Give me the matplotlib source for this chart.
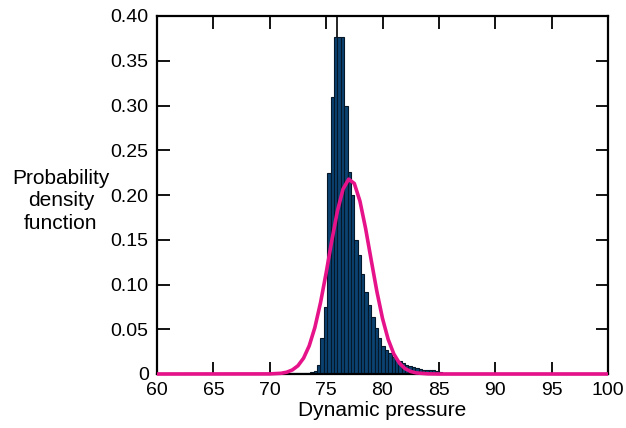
import matplotlib
matplotlib.use("Agg")
import matplotlib.pyplot as plt
import numpy as np

plt.rcParams['font.family'] = ['Liberation Sans', 'DejaVu Sans']

# Histogram (probability density), bin width 0.3
bin_width = 0.3
bin_left = [71.2, 71.5, 71.8, 72.1, 72.4, 72.7, 73.0, 73.3, 73.6, 73.9,
            74.2, 74.5, 74.8, 75.1, 75.4, 75.7, 76.0, 76.3, 76.6, 76.9,
            77.2, 77.5, 77.8, 78.1, 78.4, 78.7, 79.0, 79.3, 79.6, 79.9,
            80.2, 80.5, 80.8, 81.1, 81.4, 81.7, 82.0, 82.3, 82.6, 82.9,
            83.2, 83.5, 83.8, 84.1, 84.4, 84.7, 85.0, 85.3, 85.6]
density = [0.0005, 0.0005, 0.0007, 0.0008, 0.001, 0.001, 0.0012, 0.0015, 0.002, 0.003,
           0.010, 0.040, 0.075, 0.225, 0.310, 0.377, 0.377, 0.377, 0.300, 0.226,
           0.200, 0.150, 0.133, 0.112, 0.092, 0.077, 0.064, 0.051, 0.040, 0.031,
           0.027, 0.023, 0.019, 0.016, 0.014, 0.012, 0.010, 0.009, 0.008, 0.007,
           0.006, 0.005, 0.005, 0.004, 0.004, 0.003, 0.002, 0.001, 0.001]

# Thin spike at the histogram peak
peak_x = 76.0
peak_from, peak_to = 0.377, 0.40

# Fitted normal curve
curve_x = [60, 70, 71, 71.5, 72, 72.5, 73, 73.5, 74, 74.5, 75, 75.5, 76, 76.5,
           77, 77.5, 78, 78.5, 79, 79.5, 80, 80.5, 81, 81.5, 82, 82.5, 83, 84, 85, 100]
curve_y = [0, 0.0001, 0.0008, 0.0020, 0.0045, 0.0092, 0.0177, 0.0315, 0.0519, 0.0795,
           0.1129, 0.1488, 0.1820, 0.2066, 0.2177, 0.2129, 0.1931, 0.1627, 0.1272,
           0.0923, 0.0621, 0.0388, 0.0225, 0.0121, 0.0060, 0.0028, 0.0012, 0.0002, 0, 0]

x_ticks = [60, 65, 70, 75, 80, 85, 90, 95, 100]
y_ticks = [0, 0.05, 0.10, 0.15, 0.20, 0.25, 0.30, 0.35, 0.40]
y_tick_labels = ["0", "0.05", "0.10", "0.15", "0.20", "0.25", "0.30", "0.35", "0.40"]

fig = plt.figure(figsize=(6.26, 4.28), dpi=100)
ax = fig.add_axes([157/626, 1-374/428, (608-157)/626, (374-16)/428])

ax.bar(bin_left, density, width=bin_width, align='edge',
       facecolor='#0b4270', edgecolor='#05182a', linewidth=0.8, zorder=2)
ax.vlines(peak_x, peak_from, peak_to, color='black', linewidth=1.2, zorder=2)
ax.plot(curve_x, curve_y, color='#e6128a', linewidth=2.6, zorder=4, clip_on=False,
        solid_capstyle='butt', solid_joinstyle='round')

ax.set_xlim(60, 100)
ax.set_ylim(0, 0.40)
ax.set_xticks(x_ticks)
ax.set_yticks(y_ticks)
ax.set_yticklabels(y_tick_labels)
ax.tick_params(direction='in', length=9, width=1.3, top=True, right=True,
               labelsize=14, pad=6)
for s in ax.spines.values():
    s.set_linewidth(1.6)

ax.set_xlabel("Dynamic pressure", fontsize=15, labelpad=1)
fig.text(61/626, 1-201/428, "Probability\ndensity\nfunction", fontsize=15,
         ha='center', va='center', multialignment='center', linespacing=1.25)

fig.savefig("out.png", dpi=100)
